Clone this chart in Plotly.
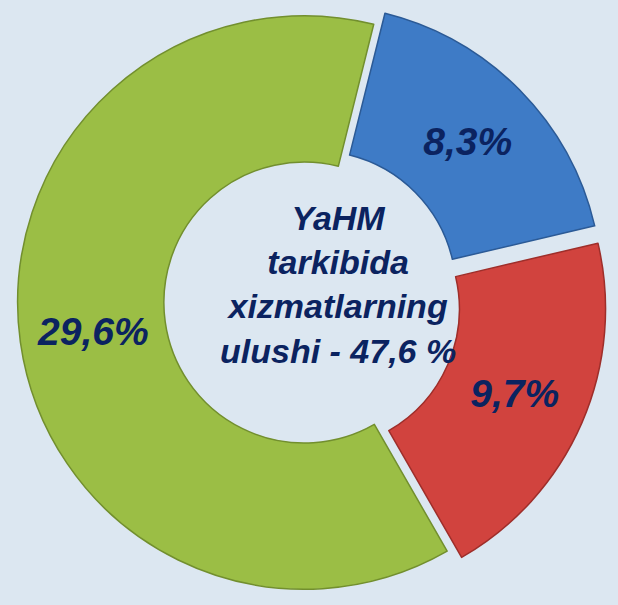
import plotly.graph_objects as go

# services share of GDP, by part (percent)
labels = ["Blue part", "Red part", "Green part"]
values = [8.3, 9.7, 29.6]
value_text = ["8,3%", "9,7%", "29,6%"]
colors = ["#3E7BC6", "#D1433E", "#9BBE45"]
edge_colors = ["#2B5A96", "#9E2E2A", "#728F2E"]
pulls = [0.055, 0.055, 0.0]
center_text = "YaHM<br>tarkibida<br>xizmatlarning<br>ulushi - 47,6 %"

NAVY = "#0B2360"
FONT = "Liberation Sans, Arial, sans-serif"
BG = "#DCE7F1"

fig = go.Figure(
    go.Pie(
        labels=labels,
        values=values,
        text=value_text,
        texttemplate="<b><i>%{text}</i></b>",
        textposition="inside",
        insidetextorientation="horizontal",
        textfont={"family": FONT, "size": 39, "color": NAVY},
        hole=0.49,
        sort=False,
        direction="clockwise",
        rotation=14,
        pull=pulls,
        marker={"colors": colors, "line": {"color": edge_colors, "width": 1.5}},
        domain={"x": [0, 0.985], "y": [0, 1]},
        showlegend=False,
        hoverinfo="skip",
    )
)

fig.add_annotation(
    text=f"<b><i>{center_text}</i></b>",
    x=0.547,
    y=0.53,
    xref="paper",
    yref="paper",
    showarrow=False,
    font={"family": FONT, "size": 34, "color": NAVY},
    align="center",
)

fig.update_layout(
    width=618,
    height=605,
    margin={"l": 0, "r": 0, "t": 0, "b": 0},
    paper_bgcolor=BG,
    plot_bgcolor=BG,
)

# drop the default page margin so the figure fills the window
fig.write_html(
    "out.html",
    config={"displayModeBar": False},
    post_script=f"document.body.style.margin='0';document.body.style.background='{BG}';",
)
